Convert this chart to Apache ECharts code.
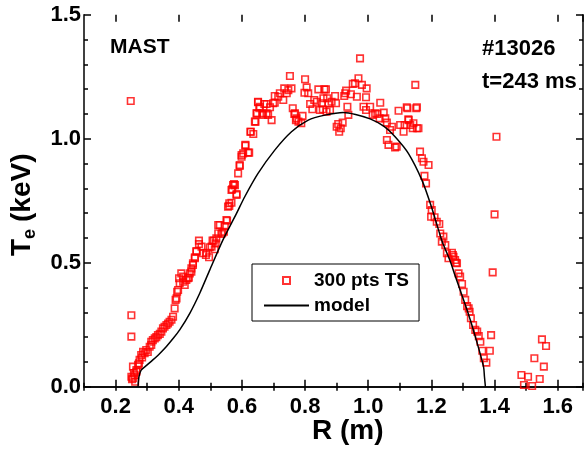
<!DOCTYPE html>
<html>
<head>
<meta charset="utf-8">
<script src="https://cdn.jsdelivr.net/npm/echarts@6/dist/echarts.min.js"></script>
<style>
html,body{margin:0;padding:0;background:#fff;}
#chart{width:585px;height:453px;}
</style>
</head>
<body>
<div id="chart"></div>
<script>
// Thomson scattering points: R (m)
const tsR = [0.248,0.25,0.25,0.25,0.252,0.255,0.255,0.258,0.26,0.262,0.266,0.266,0.271,0.274,0.276,0.281,0.284,0.287,0.292,0.297,0.302,0.308,0.313,0.313,0.318,0.324,0.329,0.334,0.34,0.345,0.35,0.355,0.361,0.366,0.371,0.377,0.382,0.387,0.39,0.393,0.395,0.398,0.401,0.403,0.408,0.414,0.414,0.419,0.424,0.429,0.432,0.435,0.44,0.44,0.445,0.445,0.451,0.451,0.456,0.456,0.464,0.464,0.472,0.477,0.486,0.488,0.496,0.498,0.504,0.507,0.511,0.514,0.517,0.519,0.525,0.525,0.53,0.535,0.538,0.543,0.546,0.551,0.553,0.556,0.56,0.56,0.567,0.567,0.569,0.572,0.575,0.578,0.583,0.583,0.588,0.593,0.593,0.599,0.599,0.604,0.611,0.611,0.62,0.623,0.627,0.628,0.636,0.641,0.643,0.646,0.648,0.651,0.651,0.655,0.657,0.664,0.667,0.671,0.678,0.678,0.683,0.689,0.694,0.699,0.704,0.704,0.715,0.72,0.731,0.734,0.742,0.747,0.752,0.757,0.761,0.766,0.768,0.771,0.773,0.779,0.788,0.792,0.798,0.8,0.805,0.81,0.816,0.823,0.829,0.837,0.842,0.847,0.853,0.856,0.858,0.861,0.866,0.868,0.87,0.874,0.879,0.884,0.895,0.898,0.9,0.905,0.908,0.913,0.919,0.924,0.927,0.93,0.934,0.937,0.945,0.951,0.958,0.964,0.969,0.974,0.98,0.985,0.993,0.993,0.995,1.006,1.014,1.022,1.029,1.036,1.038,1.049,1.054,1.059,1.059,1.064,1.069,1.075,1.085,1.09,1.096,1.101,1.112,1.115,1.122,1.124,1.127,1.128,1.133,1.141,1.143,1.149,1.152,1.154,1.154,1.159,1.164,1.17,1.175,1.178,1.183,1.191,1.196,1.199,1.201,1.21,1.217,1.225,1.228,1.233,1.238,1.244,1.249,1.254,1.265,1.268,1.27,1.275,1.278,1.281,1.286,1.291,1.297,1.302,1.307,1.313,1.318,1.321,1.325,1.332,1.339,1.345,1.35,1.355,1.361,1.366,1.374,1.385,1.389,1.394,1.4,1.406,1.485,1.493,1.506,1.519,1.526,1.543,1.55,1.556,1.563];
// Thomson scattering points: Te (keV)
const tsTe = [1.152,0.288,0.202,0.04,0.03,0.034,0.081,0.055,0.047,0.02,0.067,0.06,0.088,0.094,0.108,0.128,0.118,0.141,0.135,0.148,0.14,0.161,0.181,0.168,0.188,0.195,0.2,0.208,0.213,0.222,0.235,0.242,0.249,0.255,0.262,0.27,0.282,0.316,0.35,0.356,0.383,0.39,0.437,0.417,0.457,0.423,0.444,0.41,0.43,0.437,0.44,0.457,0.464,0.477,0.491,0.498,0.518,0.522,0.544,0.547,0.589,0.575,0.565,0.538,0.531,0.54,0.522,0.562,0.565,0.589,0.589,0.554,0.578,0.598,0.619,0.652,0.652,0.616,0.621,0.625,0.648,0.672,0.669,0.726,0.729,0.74,0.742,0.793,0.796,0.813,0.817,0.813,0.773,0.777,0.86,0.89,0.894,0.927,0.934,0.941,0.975,0.972,0.944,0.944,1.028,1.028,1.019,1.069,1.069,1.102,1.102,1.147,1.149,1.123,1.129,1.102,1.096,1.14,1.14,1.102,1.096,1.127,1.075,1.143,1.145,1.172,1.169,1.183,1.156,1.203,1.183,1.196,1.253,1.203,1.123,1.1,1.102,1.075,1.082,1.069,1.062,1.092,1.185,1.24,1.207,1.183,1.14,1.119,1.156,1.149,1.199,1.116,1.143,1.119,1.163,1.199,1.199,1.109,1.163,1.143,1.116,1.149,1.172,1.143,1.048,1.059,1.028,1.042,1.065,1.172,1.183,1.194,1.129,1.096,1.179,1.221,1.223,1.169,1.244,1.324,1.217,1.129,1.167,1.116,1.203,1.129,1.096,1.102,1.1,1.082,1.145,1.105,1.082,1.065,0.995,0.975,1.035,1.048,0.965,0.968,1.113,1.055,1.028,1.055,1.127,1.123,1.078,1.075,1.055,1.042,1.062,1.217,1.123,1.127,1.042,1.042,0.948,0.921,0.907,0.85,0.82,0.894,0.733,0.685,0.712,0.683,0.665,0.656,0.618,0.585,0.605,0.571,0.538,0.518,0.54,0.531,0.524,0.511,0.5,0.498,0.457,0.444,0.414,0.383,0.35,0.325,0.316,0.302,0.276,0.249,0.229,0.222,0.204,0.181,0.145,0.115,0.097,0.145,0.208,0.461,0.695,1.008,0.047,0.007,0.04,0.003,0.115,0.031,0.191,0.081,0.164];
// model curve
const modelR = [0.271,0.274,0.281,0.30,0.318,0.34,0.361,0.382,0.403,0.435,0.4665,0.498,0.54,0.583,0.609,0.651,0.704,0.757,0.81,0.863,0.921,0.96,1.006,1.05,1.085,1.127,1.17,1.2,1.233,1.26,1.276,1.313,1.339,1.365,1.368,1.371];
const modelTe = [0.0,0.04,0.067,0.088,0.108,0.134,0.162,0.194,0.229,0.296,0.377,0.47,0.592,0.699,0.766,0.86,0.954,1.028,1.075,1.095,1.106,1.098,1.08,1.05,1.008,0.941,0.833,0.726,0.59,0.505,0.444,0.309,0.202,0.081,0.04,0.0];
const seriesNames = ['300 pts TS', 'model'];
const annotations = ['MAST', '#13026', 't=243 ms'];

const FONT = '"Liberation Sans", Arial, sans-serif';
const chart = echarts.init(document.getElementById('chart'), null, {renderer: 'canvas'});

const tsData = tsR.map((r, i) => [r, tsTe[i]]);
const modelData = modelR.map((r, i) => [r, modelTe[i]]);

const lineStyle = {color: '#000', width: 1.5};
const majorLabel = v => (Math.abs(v * 5 - Math.round(v * 5)) < 1e-6 ? v.toFixed(1) : '');

const option = {
  animation: false,
  backgroundColor: '#fff',
  grid: [
    {left: 84, right: 2, top: 14.7, bottom: 66.3},
    {left: 115.6, right: 2, top: 14.7, bottom: 66.3}
  ],
  xAxis: [
    {gridIndex: 0, type: 'value', min: 0.1, max: 1.68, interval: 0.1, position: 'bottom',
     axisLine: {lineStyle}, axisTick: {inside: true, length: 4, lineStyle},
     axisLabel: {show: false}, splitLine: {show: false}},
    {gridIndex: 0, type: 'value', min: 0.1, max: 1.68, interval: 0.1, position: 'top',
     axisLine: {lineStyle}, axisTick: {inside: true, length: 4, lineStyle},
     axisLabel: {show: false}, splitLine: {show: false}},
    {gridIndex: 1, type: 'value', min: 0.2, max: 1.68, interval: 0.2, position: 'bottom',
     axisLine: {show: false}, axisTick: {inside: true, length: 7, lineStyle},
     axisLabel: {show: true, formatter: majorLabel, fontSize: 22, fontWeight: 'bold', fontFamily: FONT, color: '#000', margin: 9, showMaxLabel: false},
     splitLine: {show: false}},
    {gridIndex: 1, type: 'value', min: 0.2, max: 1.68, interval: 0.2, position: 'top',
     axisLine: {show: false}, axisTick: {inside: true, length: 7, lineStyle},
     axisLabel: {show: false}, splitLine: {show: false}}
  ],
  yAxis: [
    {gridIndex: 0, type: 'value', min: 0, max: 1.5, interval: 0.5, position: 'left',
     axisLine: {show: true, lineStyle}, axisTick: {inside: true, length: 7, lineStyle},
     minorTick: {show: true, splitNumber: 5, length: 4, lineStyle},
     axisLabel: {formatter: v => v.toFixed(1), fontSize: 22, fontWeight: 'bold', fontFamily: FONT, color: '#000', margin: 3},
     splitLine: {show: false}, minorSplitLine: {show: false}},
    {gridIndex: 0, type: 'value', min: 0, max: 1.5, interval: 0.5, position: 'right',
     axisLine: {show: true, lineStyle}, axisTick: {inside: true, length: 7, lineStyle},
     minorTick: {show: true, splitNumber: 5, length: 4, lineStyle},
     axisLabel: {show: false}, splitLine: {show: false}},
    {gridIndex: 1, type: 'value', min: 0, max: 1.5, show: false}
  ],
  legend: {
    orient: 'vertical', left: 252, top: 264,
    itemWidth: 45, itemHeight: 7, itemGap: 6,
    padding: [7, 10, 6, 11],
    borderColor: '#000', borderWidth: 1,
    textStyle: {fontSize: 19, fontWeight: 'bold', fontFamily: FONT, color: '#000', lineHeight: 19},
    data: [
      {name: seriesNames[0], icon: 'path://M0,0L10,0L10,10L0,10Z'},
      {name: seriesNames[1], itemStyle: {opacity: 0}}
    ]
  },
  series: [
    {name: seriesNames[0], type: 'scatter', xAxisIndex: 0, yAxisIndex: 0, data: tsData,
     symbol: 'rect', symbolSize: 6.5,
     itemStyle: {color: 'rgba(255,255,255,0)', borderColor: '#ff0000', borderWidth: 1.6}, z: 3},
    {name: seriesNames[1], type: 'line', xAxisIndex: 0, yAxisIndex: 0, data: modelData,
     symbol: 'none', smooth: 0.25, itemStyle: {color: 'rgba(0,0,0,0)'},
     lineStyle: {color: '#000', width: 1.5}, z: 4}
  ],
  graphic: [
    {type: 'text', left: 110, top: 37, style: {text: annotations[0], font: 'bold 21px ' + FONT, fill: '#000'}},
    {type: 'text', left: 482, top: 38, style: {text: annotations[1], font: 'bold 22px ' + FONT, fill: '#000'}},
    {type: 'text', left: 482, top: 71, style: {text: annotations[2], font: 'bold 22px ' + FONT, fill: '#000'}},
    {type: 'text', left: 312, top: 417, style: {text: 'R (m)', font: 'bold 28px ' + FONT, fill: '#000'}},
    {type: 'group', x: 22, y: 256, rotation: Math.PI / 2, children: [
      {type: 'text', x: 0, y: 0, style: {text: 'T', font: 'bold 28px ' + FONT, fill: '#000', verticalAlign: 'middle', align: 'left'}},
      {type: 'text', x: 17, y: 8, style: {text: 'e', font: 'bold 18px ' + FONT, fill: '#000', verticalAlign: 'middle', align: 'left'}},
      {type: 'text', x: 34, y: 0, style: {text: '(keV)', font: 'bold 28px ' + FONT, fill: '#000', verticalAlign: 'middle', align: 'left'}}
    ]}
  ]
};
chart.setOption(option);
</script>
</body>
</html>
